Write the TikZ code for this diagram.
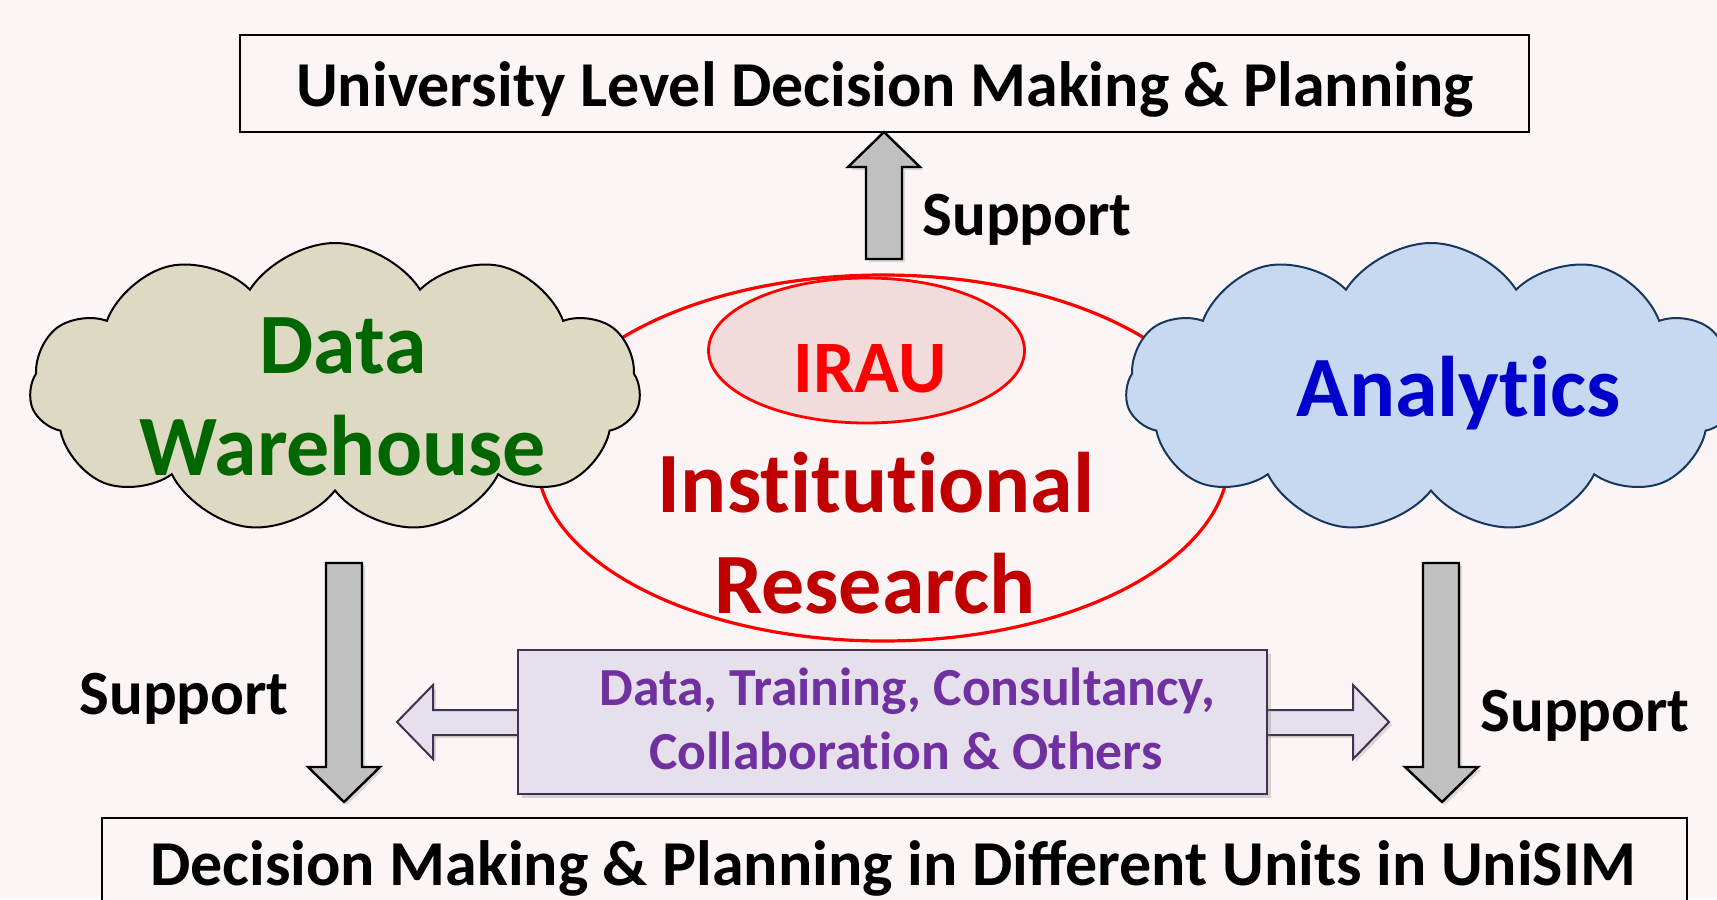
\documentclass[tikz,border=0pt]{standalone}
\usepackage{fontspec}
\setmainfont{Carlito}
\newcommand\nolig{\kern0pt }
\usetikzlibrary{shapes.symbols,shapes.geometric,shadows}
\definecolor{bg}{RGB}{251,246,245}
\definecolor{dwfill}{RGB}{221,217,195}
\definecolor{anfill}{RGB}{198,217,241}
\definecolor{anline}{RGB}{23,55,94}
\definecolor{dwgreen}{RGB}{0,102,0}
\definecolor{anblue}{RGB}{0,0,204}
\definecolor{irred}{RGB}{192,0,0}
\definecolor{iraufill}{RGB}{242,220,219}
\definecolor{purptext}{RGB}{112,48,160}
\definecolor{purpfill}{RGB}{229,224,236}
\definecolor{purpline}{RGB}{63,49,81}
\definecolor{arrowgray}{RGB}{192,192,192}
\tikzset{
  sz/.style={font=\fontsize{#1}{#1}\selectfont\bfseries},
  txt/.style={inner sep=0pt, anchor=base},
  blockarrow/.style={fill=arrowgray, draw=black, line width=1.2pt, line join=miter,
     drop shadow={opacity=0.25, shadow xshift=1.5pt, shadow yshift=-1.5pt}},
  cloudbox/.style={cloud, cloud puffs=11, cloud puff arc=115, aspect=2.1, inner sep=0pt,
     line width=1pt}
}
\begin{document}
\begin{tikzpicture}[x=0.5pt,y=-0.5pt]
\clip (0,0) rectangle (1717,899);
\fill[bg] (0,0) rectangle (1717,899);

% big red ellipse
\node (ir) [ellipse, draw=red, line width=1.6pt, minimum width=346pt, minimum height=183pt] at (883,458) {};

% clouds
\node (dw) [cloudbox, fill=dwfill, draw=black, minimum width=305.5pt, minimum height=145pt] at (335,388) {};
\node (an) [cloudbox, fill=anfill, draw=anline, minimum width=305.5pt, minimum height=145pt] at (1431,388) {};

% IRAU ellipse
\node (irau) [ellipse, draw=red, line width=1.4pt, fill=iraufill, minimum width=158pt, minimum height=72.5pt] at (866.5,350.5) {};

% top and bottom boxes
\node (topbox) [draw=black, line width=1pt, fill=bg, minimum width=644.5pt, minimum height=48.5pt] at (884.5,83.5) {};
\node (botbox) [draw=black, line width=1pt, fill=bg, minimum width=792.5pt, minimum height=60pt, anchor=north west] at (101,817) {};

% up arrow
\draw[blockarrow] (866,259) -- (866,167) -- (848,167) -- (884,132) -- (920,167) -- (902,167) -- (902,259) -- cycle;
% down arrows
\draw[blockarrow] (326,563) -- (326,767) -- (308,767) -- (344,802) -- (380,767) -- (362,767) -- (362,563) -- cycle;
\draw[blockarrow] (1423,563) -- (1423,767) -- (1405,767) -- (1442,802) -- (1478,767) -- (1459,767) -- (1459,563) -- cycle;

% double arrow
\draw[fill=purpfill, draw=purpline, line width=1pt, line join=miter,
      drop shadow={opacity=0.25, shadow xshift=1.5pt, shadow yshift=-1.5pt}]
  (397,722) -- (433,685) -- (433,710) -- (1353,710) -- (1353,685) -- (1389,722)
  -- (1353,759) -- (1353,735) -- (433,735) -- (433,759) -- cycle;
% middle box
\node (mid) [draw=purpline, line width=1.2pt, fill=purpfill, minimum width=374.5pt, minimum height=72pt,
      drop shadow={opacity=0.3, shadow xshift=2pt, shadow yshift=-2pt}] at (892.5,722) {};

% texts
\node (topT) [txt, sz=32] at (885,106) {University Level Decision Making \& Planning};
\node (botT) [txt, sz=32] at (893,885) {Decision Making \& Planning in Different Units in UniSIM};
\node (sup1) [txt, sz=31.5, anchor=base west] at (922,235) {Support};
\node (sup2) [txt, sz=31.5, anchor=base west] at (79,714) {Support};
\node (sup3) [txt, sz=31.5, anchor=base west] at (1480,731) {Support};
\node (dwT1) [txt, sz=43, text=dwgreen] at (343,373) {Data};
\node (dwT2) [txt, sz=43, text=dwgreen] at (343,475) {Warehouse};
\node (anT) [txt, sz=43, text=anblue] at (1459,416) {Analyt\nolig ics};
\node (irauT) [txt, sz=37, text=red] at (870,392) {IRAU};
\node (irT1) [txt, sz=43, text=irred] at (876,512) {Inst\nolig itut\nolig ional};
\node (irT2) [txt, sz=43, text=irred] at (875,613) {Research};
\node (midT1) [txt, sz=26.8, text=purptext] at (907,705) {Data, Training, Consultancy,};
\node (midT2) [txt, sz=26.8, text=purptext] at (906,769) {Collaborat\nolig ion \& Others};
\end{tikzpicture}
\end{document}
